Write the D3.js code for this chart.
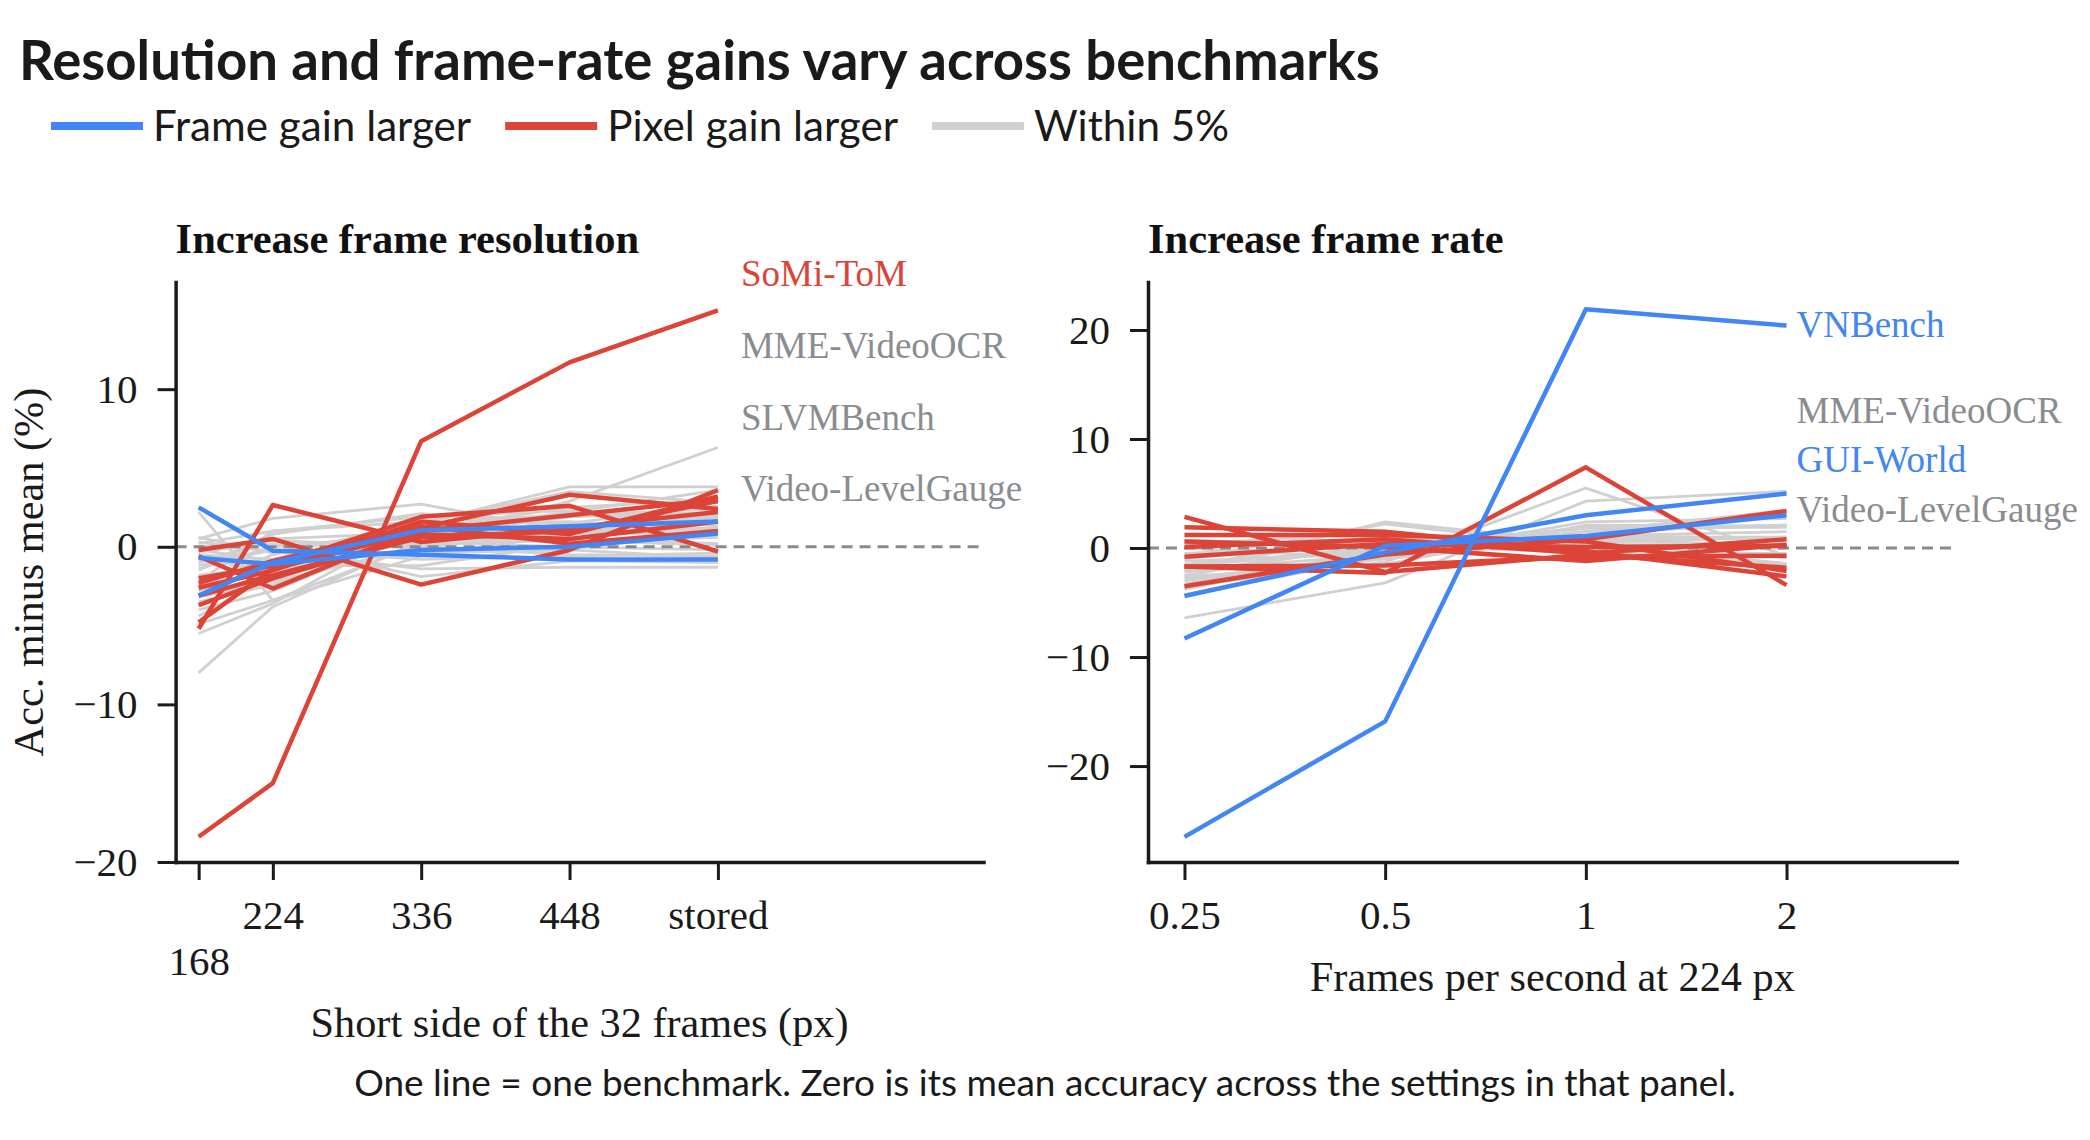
<!DOCTYPE html>
<html><head><meta charset="utf-8">
<script src="https://cdn.jsdelivr.net/npm/d3@7"></script>
<style>body{margin:0;background:#fff}svg{display:block}</style>
</head><body><svg id="chart" width="2090" height="1140"></svg>
<script>
// ---------- DATA ----------
const titleText = "Resolution and frame-rate gains vary across benchmarks";
const legendNames = ["Frame gain larger", "Pixel gain larger", "Within 5%"];
const noteText = "One line = one benchmark. Zero is its mean accuracy across the settings in that panel.";

// Panel 1: resolution
const resTicks = [168, 224, 336, 448, 560];
const resTickLabels = ["168", "224", "336", "448", "stored"];
const resYTicks = [-20, -10, 0, 10];
const resBlue = [
  [2.5, -0.25, -0.5, -0.8, -0.8],
  [-3.1, -1.0, 1.05, 1.3, 1.6],
  [-0.7, -1.1, -0.2, 0.0, 0.85]
];
const resRed = [
  [-18.4, -15.0, 6.7, 11.7, 15.0],
  [-5.2, 2.65, 0.3, 1.2, 2.2],
  [-4.8, -1.4, 1.0, 2.0, 3.0],
  [-0.2, 0.5, -2.4, -0.2, 3.6],
  [-0.6, -2.65, 1.2, 3.3, 2.4],
  [-2.0, -1.2, 1.9, 2.6, -0.3],
  [-2.6, -1.5, 1.6, 0.8, 3.2],
  [-3.1, -1.8, 0.6, 1.0, 2.9],
  [-3.7, -2.0, 0.8, 0.5, 1.6],
  [-2.3, -0.9, 1.3, 0.2, 1.0]
];
const resGray = [
  [-8.0, -3.8, 0.4, 2.9, 6.3],
  [-5.5, -3.6, 1.5, 3.8, 3.8],
  [-4.4, -1.8, 1.0, 2.2, 3.6],
  [2.2, -3.4, -0.6, 0.8, 0.9],
  [-4.9, -3.4, 0.2, 1.5, 2.6],
  [0.5, 1.8, 2.7, 1.0, 1.2],
  [-1.5, 0.8, 2.1, 1.4, 1.8],
  [-2.5, -0.5, 1.5, 3.5, 2.8],
  [0.3, -0.3, -1.4, -1.3, -1.3],
  [-0.3, 0.2, -1.9, -0.9, -1.0],
  [-3.0, -2.0, 0.8, 1.2, 2.0],
  [-2.0, -1.0, 1.2, 0.5, 1.5],
  [-1.0, 0.5, 0.9, 0.3, 0.6],
  [-0.5, -0.8, 0.3, 0.0, -0.2],
  [0.0, 0.4, 0.0, -0.5, -0.6],
  [-1.8, -1.3, 0.5, 0.9, 1.1],
  [-3.5, -2.4, 0.7, 1.9, 2.2],
  [-2.2, 1.0, 1.6, 2.0, 2.4],
  [-4.0, -2.8, 1.1, 2.5, 3.0],
  [0.2, 1.0, 1.9, 2.3, 1.3],
  [-1.2, -0.2, -0.8, -0.6, -0.4],
  [-0.8, -1.5, 0.4, 0.6, 0.2],
  [-2.8, -1.2, -1.2, 0.2, 0.7],
  [-1.4, 0.0, 0.8, 1.1, 1.5],
  [0.6, -0.4, 0.2, 0.4, 0.1],
  [-3.2, -2.2, 0.0, 0.8, 1.9],
  [-0.2, -0.9, -0.4, -0.2, -0.7],
  [-2.6, -0.8, 1.4, 1.6, 1.0]
];
const resLabelNames = ["SoMi-ToM", "MME-VideoOCR", "SLVMBench", "Video-LevelGauge"];
const resLabelGroups = ["red", "gray", "gray", "gray"];
const resLabelIndex = [0, 0, 1, 2];

// Panel 2: frame rate
const fpsTicks = [0.25, 0.5, 1, 2];
const fpsTickLabels = ["0.25", "0.5", "1", "2"];
const fpsYTicks = [-20, -10, 0, 10, 20];
const fpsBlue = [
  [-26.5, -15.9, 21.9, 20.4],
  [-4.4, -0.4, 3.0, 5.0],
  [-8.3, 0.2, 1.1, 3.0]
];
const fpsRed = [
  [-1.7, -2.3, 7.4, -3.4],
  [2.85, -2.2, -0.6, -1.8],
  [1.9, 1.5, -0.3, -2.6],
  [1.2, 1.2, 0.6, -2.1],
  [0.1, 0.8, -0.5, 0.8],
  [-0.8, 0.4, 0.1, 0.2],
  [-1.7, -1.6, -0.8, -0.7],
  [-3.5, -0.6, 0.8, 3.4],
  [0.6, 0.1, -1.2, 0.3]
];
const fpsGray = [
  [-6.4, -3.2, 4.3, 5.2],
  [-4.3, -0.4, 1.5, 3.45],
  [-3.5, -1.3, 5.5, -0.7],
  [-2.0, 2.4, 0.5, -0.9],
  [-1.0, 1.0, 0.0, 0.0],
  [-3.0, -1.0, 2.0, 2.0],
  [-2.5, 0.5, 1.0, 1.0],
  [-1.5, 0.0, 0.5, 1.0],
  [0.5, 0.8, -0.5, -0.8],
  [-2.8, -0.8, 1.5, 2.1],
  [-3.6, -0.2, 1.8, 2.0],
  [-1.2, -0.5, 0.8, 0.9],
  [-0.5, 0.3, -0.2, 0.4],
  [-2.2, 0.2, 1.2, 0.8],
  [0.3, 1.5, -0.3, -1.5],
  [-4.3, -0.8, 2.4, 2.7],
  [-1.8, 1.2, 0.3, 0.3],
  [-3.3, -0.3, 1.5, 2.1],
  [0.0, -1.0, 0.8, 0.2],
  [-2.6, -1.5, 2.1, 2.0],
  [-0.8, 0.6, 0.2, 0.0],
  [-1.6, -0.2, 0.9, 0.9],
  [-3.8, 0.0, 1.9, 1.9],
  [-2.0, -0.6, 1.1, 1.5],
  [0.7, 0.2, -0.4, -0.5],
  [-1.0, 2.2, 0.2, -1.4]
];
const fpsLabelNames = ["VNBench", "MME-VideoOCR", "GUI-World", "Video-LevelGauge"];
const fpsLabelGroups = ["blue", "gray", "blue", "gray"];
const fpsLabelIndex = [0, 0, 1, 1];

// ---------- STYLE ----------
const COL = { blue: "#4285F4", red: "#DB4437", gray: "#D0D0D0" };
const LABEL_COL = { blue: "#4285F4", red: "#DB4437", gray: "#8A8C90" };
const INK = "#1a1a1a";
const SERIF = "'Liberation Serif', 'Times New Roman', serif";
const SANS = "Lato, 'Noto Sans', sans-serif";

const svg = d3.select("#chart");
svg.append("rect").attr("width", 2090).attr("height", 1140).attr("fill", "#fff");

// Title
svg.append("text").attr("x", 19).attr("y", 80)
  .attr("font-family", SANS).attr("font-weight", 700).attr("font-size", 54.5)
  .attr("fill", "#1a1a1a").text(titleText);

// Legend
(function () {
  const cols = [COL.blue, COL.red, COL.gray];
  let x = 51;
  legendNames.forEach((name, i) => {
    svg.append("line").attr("x1", x).attr("x2", x + 92).attr("y1", 126).attr("y2", 126)
      .attr("stroke", cols[i]).attr("stroke-width", 8);
    const t = svg.append("text").attr("x", x + 102).attr("y", 141)
      .attr("font-family", SANS).attr("font-size", 42.2).attr("fill", "#1a1a1a").text(name);
    x = x + 102 + t.node().getComputedTextLength() + 34;
  });
})();

// Note
svg.append("text").attr("x", 1045).attr("y", 1096).attr("text-anchor", "middle")
  .attr("font-family", SANS).attr("font-size", 37).attr("fill", "#1a1a1a").text(noteText);

function panel(cfg) {
  const g = svg.append("g");
  const { xScale, yScale, ticks } = cfg;
  const [x0, x1] = xScale.range();
  const [y1, y0] = yScale.range();

  // Title
  g.append("text").attr("x", x0).attr("y", 253)
    .attr("font-family", SERIF).attr("font-weight", 700).attr("font-size", 42.5)
    .attr("fill", "#111").text(cfg.title);

  const line = d3.line().x((d, i) => xScale(ticks[i])).y(d => yScale(d));

  // gray lines
  g.append("g").selectAll("path").data(cfg.gray).join("path")
    .attr("d", line).attr("fill", "none").attr("stroke", COL.gray)
    .attr("stroke-width", 2.8).attr("stroke-linejoin", "round");

  // zero line
  g.append("line").attr("x1", x0).attr("x2", x1)
    .attr("y1", yScale(0)).attr("y2", yScale(0))
    .attr("stroke", "#8a8a8a").attr("stroke-width", 3).attr("stroke-dasharray", "11,7");

  g.append("g").selectAll("path").data(cfg.red).join("path")
    .attr("d", line).attr("fill", "none").attr("stroke", COL.red)
    .attr("stroke-width", 4.5).attr("stroke-linejoin", "round");
  g.append("g").selectAll("path").data(cfg.blue).join("path")
    .attr("d", line).attr("fill", "none").attr("stroke", COL.blue)
    .attr("stroke-width", 4.5).attr("stroke-linejoin", "round");

  // Axes
  const ax = d3.axisLeft(yScale).tickValues(cfg.yTicks).tickSize(18).tickSizeOuter(0).tickPadding(20);
  const yg = g.append("g").attr("transform", `translate(${x0},0)`).call(ax);
  const bx = d3.axisBottom(xScale).tickValues(ticks).tickSize(18).tickSizeOuter(0).tickPadding(20)
    .tickFormat((d, i) => cfg.tickLabels[i]);
  const xg = g.append("g").attr("transform", `translate(0,${y1})`).call(bx);
  [yg, xg].forEach(a => {
    a.select(".domain").attr("stroke", INK).attr("stroke-width", 3.5).attr("stroke-linecap", "square");
    a.selectAll(".tick line").attr("stroke", INK).attr("stroke-width", 3);
    a.selectAll(".tick text").attr("font-family", SERIF).attr("font-size", 41).attr("fill", INK);
  });
  yg.raise();

  // stagger crowded x tick labels (right to left)
  const texts = xg.selectAll(".tick text").nodes();
  const shift = 46;
  let maxShift = 0;
  for (let i = texts.length - 2; i >= 0; i--) {
    const a = texts[i].getBoundingClientRect();
    const b = texts[i + 1].getBoundingClientRect();
    if (a.right + 20 > b.left) {
      d3.select(texts[i]).attr("y", +d3.select(texts[i]).attr("y") + shift);
      maxShift = shift;
    }
  }

  // axis titles
  g.append("text").attr("x", (x0 + x1) / 2).attr("y", y1 + 129 + maxShift)
    .attr("text-anchor", "middle").attr("font-family", SERIF).attr("font-size", 42.3)
    .attr("fill", INK).text(cfg.xTitle);
  if (cfg.yTitle) {
    g.append("text").attr("transform", `translate(${x0 - 147},${(y0 + y1) / 2}) rotate(-90)`)
      .attr("text-anchor", "middle").attr("dy", "0.35em").attr("font-family", SERIF).attr("font-size", 42.3)
      .attr("fill", INK).text(cfg.yTitle);
  }

  // end labels with simple bottom-up stacking
  const groups = { red: cfg.red, blue: cfg.blue, gray: cfg.gray };
  const labs = cfg.labelNames.map((n, i) => {
    const s = groups[cfg.labelGroups[i]][cfg.labelIndex[i]];
    return { name: n, group: cfg.labelGroups[i], last: s[s.length - 1], ty: yScale(s[s.length - 1]) };
  }).sort((a, b) => a.ty - b.ty);
  const gapPx = Math.abs(yScale(0) - yScale(4.55));
  for (let i = labs.length - 1; i >= 0; i--) {
    labs[i].y = (i === labs.length - 1) ? labs[i].ty : Math.min(labs[i].ty, labs[i + 1].y - gapPx);
  }
  const lx = xScale(ticks[ticks.length - 1]) + cfg.labelOffset;
  g.append("g").selectAll("text").data(labs).join("text")
    .attr("x", lx).attr("y", d => d.y - 1.5).attr("dy", "0.35em")
    .attr("font-family", SERIF).attr("font-size", 37)
    .attr("fill", d => LABEL_COL[d.group]).text(d => d.name);
}

panel({
  title: "Increase frame resolution",
  xTitle: "Short side of the 32 frames (px)",
  yTitle: "Acc. minus mean (%)",
  xScale: d3.scaleLinear().domain([150.6, 760.5]).range([175.6, 983.5]),
  yScale: d3.scaleLinear().domain([-20, 16.8]).range([862, 282]),
  ticks: resTicks, tickLabels: resTickLabels, yTicks: resYTicks,
  gray: resGray, red: resRed, blue: resBlue,
  labelNames: resLabelNames, labelGroups: resLabelGroups, labelIndex: resLabelIndex,
  labelOffset: 23
});

panel({
  title: "Increase frame rate",
  xTitle: "Frames per second at 224 px",
  xScale: d3.scaleLog().base(2).domain([0.2204, 3.6]).range([1148, 1956.7]),
  yScale: d3.scaleLinear().domain([-28.8, 24.4]).range([862, 282]),
  ticks: fpsTicks, tickLabels: fpsTickLabels, yTicks: fpsYTicks,
  gray: fpsGray, red: fpsRed, blue: fpsBlue,
  labelNames: fpsLabelNames, labelGroups: fpsLabelGroups, labelIndex: fpsLabelIndex,
  labelOffset: 10
});
</script></body></html>
